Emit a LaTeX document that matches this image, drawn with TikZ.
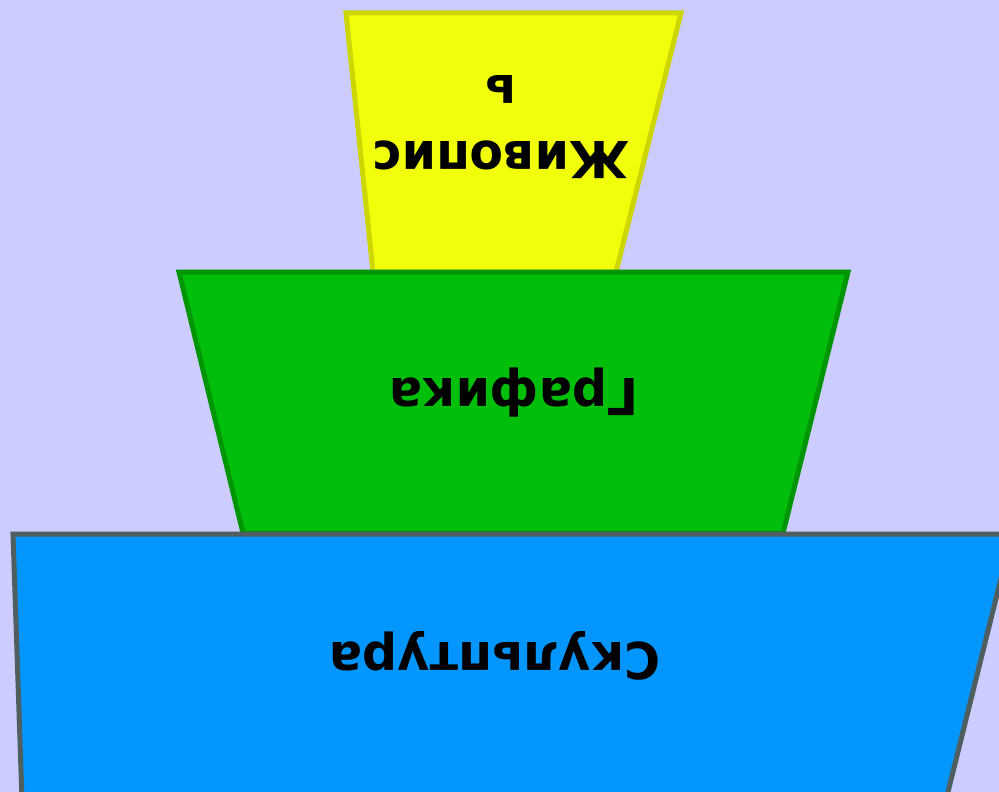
\documentclass[tikz,border=0pt]{standalone}
\usepackage{fontspec}
\setmainfont{DejaVu Sans}
\definecolor{bg}{HTML}{CCCCFF}
\definecolor{yfill}{HTML}{F2FF0A}
\definecolor{ydraw}{HTML}{CCD600}
\definecolor{gfill}{HTML}{00BF0A}
\definecolor{gdraw}{HTML}{009505}
\definecolor{bfill}{HTML}{0496FF}
\definecolor{bdraw}{HTML}{4F5F5F}
\tikzset{
  tier/.style={line width=5pt, line join=miter},
  lbl/.style={rotate=180, font=\fontsize{49}{63}\selectfont\bfseries, text=black, align=center, inner sep=0pt, yscale=1.04}
}
\begin{document}
\begin{tikzpicture}[x=1pt,y=-1pt]
\fill[bg] (0,0) rectangle (999,792);
\useasboundingbox (0,0) rectangle (999,792);
\begin{scope}
\clip (0,0) rectangle (999,792);
\draw[tier, fill=yfill, draw=ydraw] (346,13) -- (681,13) -- (616,272) -- (373,272) -- cycle;
\draw[tier, fill=gfill, draw=gdraw] (179,272) -- (848,272) -- (783,533) -- (243,533) -- cycle;
\draw[tier, fill=bfill, draw=bdraw] (13,534) -- (1012,534) -- (946,800) -- (22,800) -- cycle;
\end{scope}
\node[lbl] (p) at (501,127) {Живопис\\ь};
\node[lbl] (g) at (514,393) {Графика};
\node[lbl] (s) at (495,656) {Скульптура};
\end{tikzpicture}
\end{document}
